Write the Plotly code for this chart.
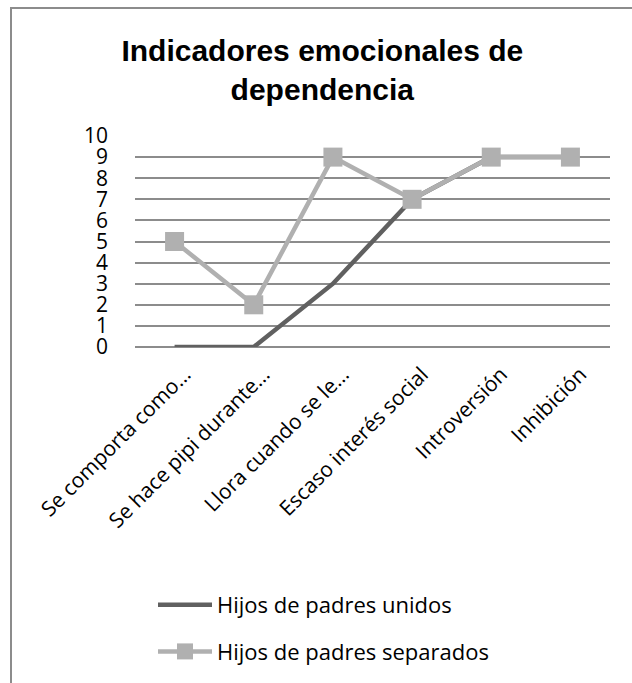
import plotly.graph_objects as go

categories = ["Se comporta como…", "Se hace pipi durante…", "Llora cuando se le…",
              "Escaso interés social", "Introversión", "Inhibición"]
unidos = [0, 0, 3, 7, 9, 9]
separados = [5, 2, 9, 7, 9, 9]
y_ticks = list(range(0, 11))

L, R, T, B = 135, 22, 136, 336
W, H = 632, 683
pw, ph = W - L - R, H - T - B

def px_x(x):
    return (x - L) / pw

def px_y(y):
    return (H - B - y) / ph

fig = go.Figure()
fig.add_trace(go.Scatter(x=categories, y=unidos, mode="lines", name="Hijos de padres unidos",
                         legendgroup="a",
                         line=dict(color="#606060", width=4.5)))
fig.add_trace(go.Scatter(x=categories, y=separados, mode="lines+markers", name="Hijos de padres separados",
                         legendgroup="b",
                         line=dict(color="#b0b0b0", width=4.5),
                         marker=dict(symbol="square", size=19, color="#b0b0b0")))

fig.update_layout(
    width=W, height=H,
    margin=dict(l=L, r=R, t=T, b=B, autoexpand=False),
    paper_bgcolor="white", plot_bgcolor="white",
    font=dict(family="Open Sans", color="#000000"),
    title=dict(text="<b>Indicadores emocionales de<br>dependencia</b>",
               font=dict(family="Liberation Sans", size=30, color="#000"),
               x=0.51, xref="container", xanchor="center",
               y=1 - 61 / H, yref="container", yanchor="middle"),
    xaxis=dict(showgrid=False, showline=False, tickangle=-45, tickfont=dict(size=21),
               ticks="", range=[-0.5, 5.5], ticklabelstandoff=10, ticklabelshift=10),
    yaxis=dict(range=[0, 10], tickvals=y_ticks, showgrid=True, gridcolor="#8c8c8c", gridwidth=1.5,
               zeroline=True, zerolinecolor="#8c8c8c", zerolinewidth=1.5,
               tickfont=dict(size=21), ticks="", ticklabelstandoff=26),
    showlegend=True,
    legend=dict(x=px_x(153), y=px_y(584), xanchor="left", yanchor="top",
                font=dict(size=22), tracegroupgap=15, itemwidth=54,
                bgcolor="rgba(0,0,0,0)"),
    shapes=[dict(type="rect", xref="paper", yref="paper",
                 x0=px_x(11), x1=px_x(650), y0=px_y(700), y1=px_y(8),
                 line=dict(color="#8c8c8c", width=2), fillcolor="rgba(0,0,0,0)", layer="below")],
)

fig.write_html("out.html")
